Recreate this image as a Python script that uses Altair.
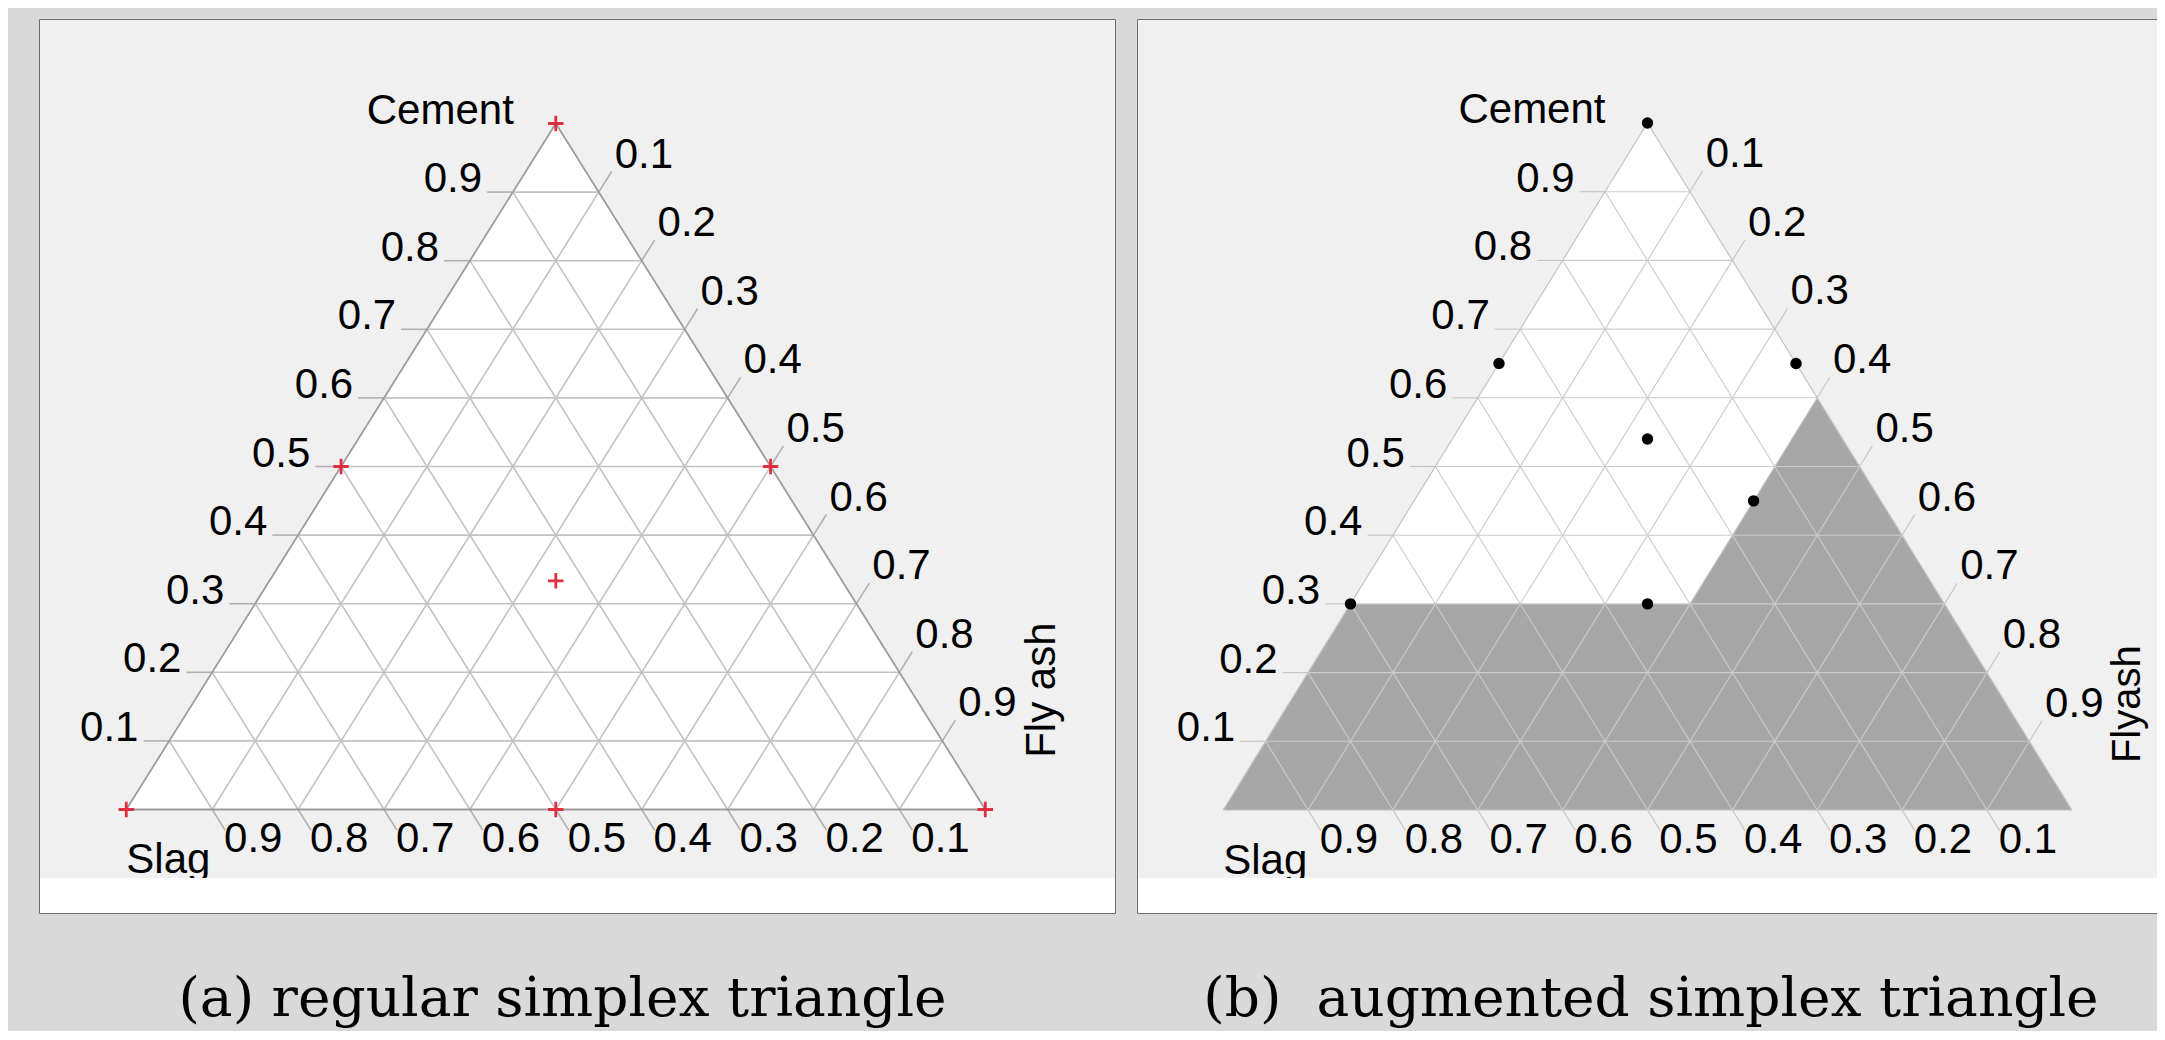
import altair as alt
import pandas as pd

# ---------------- data ----------------
tick_values = [0.1, 0.2, 0.3, 0.4, 0.5, 0.6, 0.7, 0.8, 0.9]
tick_labels = ["0.1", "0.2", "0.3", "0.4", "0.5", "0.6", "0.7", "0.8", "0.9"]

# panel (a): design points (cement, slag, fly ash)
a_cement = [1.0, 0.0, 0.0, 0.5, 0.5, 0.0, 1 / 3]
a_slag = [0.0, 1.0, 0.0, 0.5, 0.0, 0.5, 1 / 3]
a_flyash = [0.0, 0.0, 1.0, 0.0, 0.5, 0.5, 1 / 3]

# panel (b): design points
b_cement = [1.0, 0.65, 0.65, 0.54, 0.45, 0.30, 0.30]
b_slag = [0.0, 0.35, 0.0, 0.23, 0.15, 0.70, 0.35]
b_flyash = [0.0, 0.0, 0.35, 0.23, 0.40, 0.0, 0.35]

# panel (b): excluded (grey) region, upper outline from the Slag corner to the Fly ash corner
r_cement = [0.0, 0.3, 0.3, 0.6, 0.0]
r_slag = [1.0, 0.7, 0.3, 0.0, 0.0]
r_flyash = [0.0, 0.0, 0.4, 0.4, 1.0]

captions = ["(a) regular simplex triangle", "(b)\u00a0 augmented simplex triangle"]
axis_names_a = ["Cement", "Slag", "Fly ash"]
axis_names_b = ["Cement", "Slag", "Flyash"]


def P(c, s, f):
    """ternary composition -> plane coordinates (slag left, fly ash right, cement top)"""
    return f + c / 2.0, c


T = 0.03  # tick length in composition units


def build_frames():
    grid, tl, tr, tb = [], [], [], []
    for v, lab in zip(tick_values, tick_labels):
        # cement = v (horizontal)
        x1, y1 = P(v, 1 - v, 0)
        x2, y2 = P(v, 0, 1 - v)
        grid.append(dict(x=x1, y=y1, x2=x2, y2=y2))
        ex, ey = P(v, 1 - v + T, -T)
        tl.append(dict(x=x1, y=y1, x2=ex, y2=ey, label=lab))
        # fly ash = v
        x1, y1 = P(1 - v, 0, v)
        x2, y2 = P(0, 1 - v, v)
        grid.append(dict(x=x1, y=y1, x2=x2, y2=y2))
        ex, ey = P(1 - v + T, -T, v)
        tr.append(dict(x=x1, y=y1, x2=ex, y2=ey, label=lab))
        # slag = v
        x1, y1 = P(1 - v, v, 0)
        x2, y2 = P(0, v, 1 - v)
        grid.append(dict(x=x1, y=y1, x2=x2, y2=y2))
        ex, ey = P(-T, v, 1 - v + T)
        tb.append(dict(x=x2, y=y2, x2=ex, y2=ey, label=lab))
    return (pd.DataFrame(grid), pd.DataFrame(tl), pd.DataFrame(tr), pd.DataFrame(tb))


grid_df, tl_df, tr_df, tb_df = build_frames()
ticks_df = pd.concat([tl_df, tr_df, tb_df], ignore_index=True)

tri_pts = [P(0, 1, 0), P(1, 0, 0), P(0, 0, 1)]
tri_df = pd.DataFrame({"x": [p[0] for p in tri_pts], "y": [p[1] for p in tri_pts], "y2": 0.0})
edge_seq = [P(0, 1, 0), P(1, 0, 0), P(0, 0, 1), P(0, 1, 0)]
edge_df = pd.DataFrame({"x": [p[0] for p in edge_seq], "y": [p[1] for p in edge_seq],
                        "o": list(range(len(edge_seq)))})

FONT = "Liberation Sans"
FS = 42
FRAME = "#6e6e6e"


def panel(pts_df, point_layer_fn, caption, cap_dx, names, name_pos, name_fs,
          view_w, view_h, W, H, xbl, bottom, line_style, frame_x2, region_df=None):
    xs = alt.Scale(domain=[-xbl / W, (view_w - xbl) / W], nice=False, zero=False)
    ys = alt.Scale(domain=[-(view_h - bottom) / H, 1 + (bottom - H) / H], nice=False, zero=False)
    X = lambda f="x": alt.X(f"{f}:Q", scale=xs, axis=None)
    Y = lambda f="y": alt.Y(f"{f}:Q", scale=ys, axis=None)

    layers = []
    layers.append(alt.Chart(tri_df).mark_area(color="white", opacity=1, line=False).encode(
        x=X(), y=Y(), y2="y2:Q"))
    if region_df is not None:
        layers.append(alt.Chart(region_df).mark_area(color="#a7a7a7", opacity=1).encode(
            x=X(), y=Y(), y2="y2:Q"))
    gc, gw, ec, ew, tc, tw = line_style
    layers.append(alt.Chart(grid_df).mark_rule(color=gc, strokeWidth=gw).encode(
        x=X(), y=Y(), x2="x2:Q", y2="y2:Q"))
    layers.append(alt.Chart(ticks_df).mark_rule(color=tc, strokeWidth=tw).encode(
        x=X(), y=Y(), x2="x2:Q", y2="y2:Q"))
    layers.append(alt.Chart(edge_df).mark_line(color=ec, strokeWidth=ew).encode(
        x=X(), y=Y(), order="o:Q"))
    # tick labels
    layers.append(alt.Chart(tl_df).mark_text(font=FONT, fontSize=FS, align="right",
                                             baseline="alphabetic", dx=-5, dy=0, color="black").encode(
        x=X("x2"), y=Y("y2"), text="label:N"))
    layers.append(alt.Chart(tr_df).mark_text(font=FONT, fontSize=FS, align="left",
                                             baseline="alphabetic", dx=3, dy=-4, color="black").encode(
        x=X("x2"), y=Y("y2"), text="label:N"))
    layers.append(alt.Chart(tb_df).mark_text(font=FONT, fontSize=FS, align="left",
                                             baseline="alphabetic", dx=-1, dy=22, color="black").encode(
        x=X("x2"), y=Y("y2"), text="label:N"))
    # points
    layers.append(point_layer_fn(alt.Chart(pts_df)).encode(x=X(), y=Y()))
    # axis names
    cx, cy = P(1, 0, 0)
    sx, sy = P(0, 1, 0)
    layers.append(alt.Chart(pd.DataFrame({"x": [cx], "y": [cy], "t": [names[0]]})).mark_text(
        font=FONT, fontSize=FS, align="right", baseline="alphabetic", dx=-42, color="black").encode(
        x=X(), y=Y(), text="t:N"))
    layers.append(alt.Chart(pd.DataFrame({"x": [sx], "y": [sy], "t": [names[1]]})).mark_text(
        font=FONT, fontSize=FS, align="left", baseline="alphabetic", dx=0, dy=63.5, color="black").encode(
        x=X(), y=Y(), text="t:N"))
    layers.append(alt.Chart(pd.DataFrame({"x": [name_pos[0]], "y": [name_pos[1]], "t": [names[2]]})).mark_text(
        font=FONT, fontSize=name_fs, align="center", baseline="alphabetic", angle=270, color="black").encode(
        x=X(), y=Y(), text="t:N"))
    # white strip at the bottom of the panel
    one = pd.DataFrame({"a": [0]})
    layers.append(alt.Chart(one).mark_rect(color="white").encode(
        x=alt.value(0), x2=alt.value(view_w), y=alt.value(859), y2=alt.value(view_h)))
    # panel frame
    layers.append(alt.Chart(one).mark_rect(fillOpacity=0, stroke=FRAME, strokeWidth=1, clip=True).encode(
        x=alt.value(0.5), x2=alt.value(frame_x2), y=alt.value(0.5), y2=alt.value(view_h - 0.5)))

    return alt.layer(*layers).properties(
        width=view_w, height=view_h,
        title=alt.TitleParams(text=caption, orient="bottom", anchor="middle", font="DejaVu Serif",
                              fontSize=55, fontWeight="normal", color="black", offset=102,
                              baseline="alphabetic", dx=cap_dx))


def comp_df(c, s, f):
    xy = [P(ci, si, fi) for ci, si, fi in zip(c, s, f)]
    return pd.DataFrame({"x": [p[0] for p in xy], "y": [p[1] for p in xy]})


pa = comp_df(a_cement, a_slag, a_flyash)
pb = comp_df(b_cement, b_slag, b_flyash)
reg = comp_df(r_cement, r_slag, r_flyash)
reg["y2"] = 0.0

WA, WB = 1077, 1020
left = panel(pa, lambda c: c.mark_point(shape="M-1,0H1M0,-1V1", filled=False, color="#e0303f",
                                         strokeWidth=2.8, size=240, opacity=1),
             captions[0], -15, axis_names_a, (1.081, 0.174), FS,
             WA, 895, 859, 686, 87.3, 790.5,
             ("#c2c2c2", 1.6, "#9c9c9c", 1.8, "#b0b0b0", 1.6), WA - 0.5)
right = panel(pb, lambda c: c.mark_circle(color="black", size=130, opacity=1),
              captions[1], 4, axis_names_b, (1.080, 0.154), 40,
              WB, 895, 848.6, 687, 86.2, 791,
              ("#cbcbcb", 1.1, "#c4c4c4", 1.2, "#c4c4c4", 1.1), WB + 30, region_df=reg)

chart = alt.hconcat(left, right, spacing=21, bounds="flush").properties(
    padding={"left": 31, "top": 11, "right": 0, "bottom": 4},
    background="#d9d9d9",
).configure_view(fill="#f0f0f0", stroke="transparent", strokeWidth=0)

chart.save("out.html", embed_options={"renderer": "svg", "actions": False})
